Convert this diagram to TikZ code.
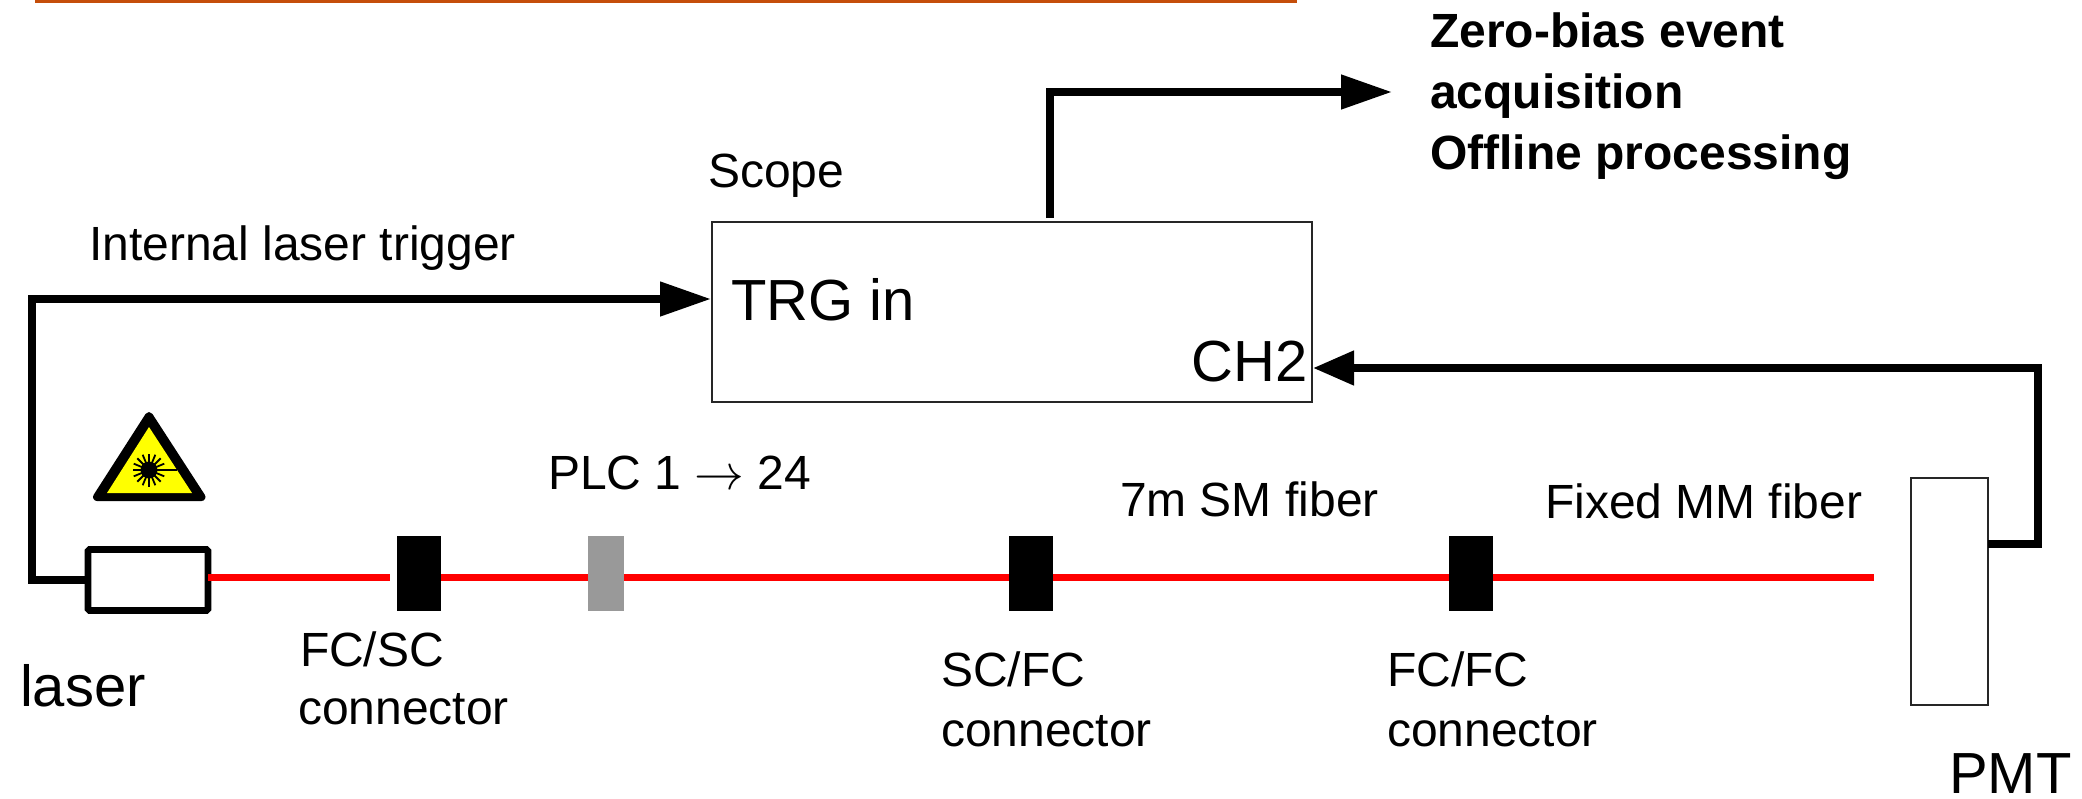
\documentclass[tikz,border=0pt]{standalone}
\usepackage{fontspec}
\setmainfont{Liberation Sans}
\usetikzlibrary{arrows.meta}
\definecolor{fiberred}{RGB}{255,0,0}
\definecolor{rulecol}{RGB}{197,78,10}
\definecolor{plcgrey}{RGB}{153,153,153}
\definecolor{warn}{RGB}{255,255,0}
\tikzset{
  thinbox/.style={draw=black!85,line width=0.6pt,fill=white,inner sep=0,outer sep=0},
  laserbox/.style={draw=black,line width=3.4pt,fill=white,inner sep=0,outer sep=0,rounded corners=0.8pt},
  conn/.style={fill=black,inner sep=0,outer sep=0,minimum width=22pt,minimum height=37.5pt},
  plc/.style={fill=plcgrey,inner sep=0,outer sep=0,minimum width=18pt,minimum height=37.5pt},
  sig/.style={draw=black,line width=3.9pt,miter limit=10},
  fiber/.style={draw=fiberred,line width=3.6pt},
  lab/.style={inner sep=0,outer sep=0,anchor=base west,font=\fontsize{24}{28}\selectfont},
  labbig/.style={inner sep=0,outer sep=0,anchor=base west,font=\fontsize{29}{34}\selectfont},
  labbold/.style={inner sep=0,outer sep=0,anchor=base west,font=\fontsize{24}{28}\selectfont\bfseries},
  headA/.style={-{Triangle[length=25.5pt,width=16.5pt]}},
  headB/.style={-{Triangle[length=20.5pt,width=16.5pt]}},
}
\begin{document}
\begin{tikzpicture}[x=0.5pt,y=-0.5pt]
\useasboundingbox (0,0) rectangle (2082,798);
\fill[rulecol] (35,0) rectangle (1297,3);

% devices
\node[thinbox,minimum width=300pt,minimum height=90pt] (scope) at (1012,312) {};
\node[thinbox,minimum width=38.5pt,minimum height=113.5pt] (pmt) at (1949.5,591.5) {};
\node[laserbox,minimum width=60pt,minimum height=30.5pt] (laser) at (148,580) {};
\node[conn] (c1) at (419,573) {};
\node[plc] (plc) at (606,573.5) {};
\node[conn] (c2) at (1031,573.5) {};
\node[conn] (c3) at (1471,573.5) {};

% fibre (red) connectors
\coordinate (gap1) at (390,577.5);
\coordinate (fiberend) at (1874,577.5);
\draw[fiber] (laser.east |- gap1) -- (gap1);
\draw[fiber] (c1.east |- gap1) -- (plc.west |- gap1);
\draw[fiber] (plc.east |- gap1) -- (c2.west |- gap1);
\draw[fiber] (c2.east |- gap1) -- (c3.west |- gap1);
\draw[fiber] (c3.east |- gap1) -- (fiberend);

% signal connectors
\coordinate (trgcorner) at (32,299);
\coordinate (trgin) at (711,299);
\coordinate (chin) at (1313,368);
\coordinate (pmtout) at (1988,544);
\coordinate (outstart) at (1050,218);
\coordinate (outcorner) at (1050,92);
\coordinate (outend) at (1392,92);
\draw[sig,headA] (laser.west) -| (trgcorner) -- (trgin);
\draw[sig,headB] (pmtout) -| (2038,368) -- (chin);
\draw[sig,headA] (outstart) -- (outcorner) -- (outend);

% laser warning sign
\draw[black,fill=black,line width=4pt,line join=round] (149,416) -- (97,497) -- (201.5,497) -- cycle;
\fill[warn] (149,427) -- (107,493) -- (192,493) -- cycle;
\draw[black,line width=0.9pt] (149,470) -- (177,470);
\fill[black] (149,470) circle[radius=8.5];
\foreach \a in {0,22.5,...,337.5}{
  \draw[black,line width=0.9pt] (149,470) -- ++(\a:16.5);
}

% labels
\node[lab] (t1) at (89,260) {Internal laser trigger};
\node[lab] (t2) at (708,187) {Scope};
\node[labbig] (t3) at (731,320) {TRG in};
\node[labbig,anchor=base east] (t4) at (1308,381) {CH2};
\node[labbold] (t5) at (1430,47) {Zero-bias event};
\node[labbold] (t6) at (1430,108) {acquisition};
\node[labbold] (t7) at (1430,169) {Offline processing};
\node[lab] (t8) at (548,489) {PLC 1 $\rightarrow$ 24};
\node[lab] (t9) at (1120,516) {7m SM fiber};
\node[lab] (t10) at (1545,518) {Fixed MM fiber};
\node[labbig] (t11) at (20,706) {laser};
\node[lab] (t12) at (300,666) {FC/SC};
\node[lab] (t13) at (298,724) {connector};
\node[lab] (t14) at (941,686) {SC/FC};
\node[lab] (t15) at (941,746) {connector};
\node[lab] (t16) at (1387,686) {FC/FC};
\node[lab] (t17) at (1387,746) {connector};
\node[labbig] (t18) at (1949,793) {PMT};
\end{tikzpicture}
\end{document}
